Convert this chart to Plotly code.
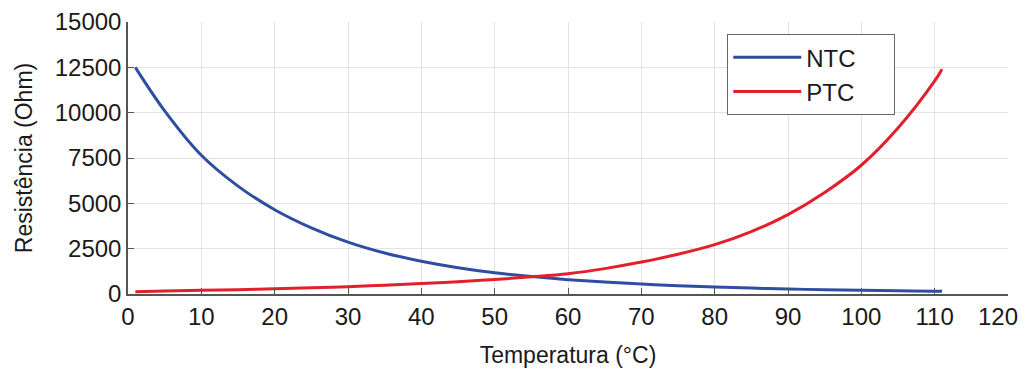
import plotly.graph_objects as go

temperatura = [1, 5, 10, 15, 20, 25, 30, 35, 40, 45, 50, 55, 60, 65, 70, 75, 80, 85, 90, 95, 100, 105, 110, 111]
ntc = [12500, 10100, 7650, 5950, 4650, 3650, 2860, 2260, 1810, 1450, 1170, 960, 790, 655, 545, 455, 385, 325, 275, 235, 200, 175, 150, 145]
ptc = [130, 160, 200, 240, 285, 340, 405, 485, 575, 680, 800, 945, 1120, 1400, 1760, 2190, 2720, 3440, 4380, 5600, 7100, 9150, 11750, 12400]

x_ticks = [0, 10, 20, 30, 40, 50, 60, 70, 80, 90, 100, 110, 120]
y_ticks = [0, 2500, 5000, 7500, 10000, 12500, 15000]

font_family = "Liberation Sans, Arial, sans-serif"
nb = "\u00a0"

x_ticktext = [str(v) for v in x_ticks]
x_ticktext[-1] = x_ticktext[-1] + nb * 3

fig = go.Figure()
fig.add_trace(go.Scatter(x=temperatura, y=ntc, mode="lines", name="NTC" + nb * 5,
                         line=dict(color="#2F4EA2", width=3, shape="spline", smoothing=1.0)))
fig.add_trace(go.Scatter(x=temperatura, y=ptc, mode="lines", name="PTC" + nb * 5,
                         line=dict(color="#E2202C", width=3, shape="spline", smoothing=1.0)))

fig.update_layout(
    width=1020, height=364,
    margin=dict(l=120, r=20, t=14, b=78),
    paper_bgcolor="white", plot_bgcolor="white",
    font=dict(family=font_family, size=23, color="#1a1a1a"),
    legend=dict(x=0.681, y=0.955, xanchor="left", yanchor="top",
                bordercolor="#666666", borderwidth=1, bgcolor="white",
                font=dict(size=24), tracegroupgap=0, itemwidth=68),
    showlegend=True,
)
fig.update_xaxes(
    range=[0, 120], tickvals=x_ticks, ticktext=x_ticktext,
    showgrid=True, gridcolor="#e3e3e3", gridwidth=1,
    showline=True, linecolor="#555555", linewidth=1.5, mirror=False,
    ticks="inside", ticklen=6, tickcolor="#555555",
    zeroline=False, automargin=False, ticklabeloverflow="allow",
    title=dict(text="Temperatura (°C)", font=dict(size=23), standoff=18),
    tickfont=dict(size=24),
)
fig.update_yaxes(
    range=[0, 15000], tickvals=y_ticks, ticktext=[str(v) for v in y_ticks],
    showgrid=True, gridcolor="#e3e3e3", gridwidth=1,
    showline=True, linecolor="#555555", linewidth=1.5, mirror=False,
    ticks="inside", ticklen=6, tickcolor="#555555",
    zeroline=False, automargin=False,
    title=dict(text="Resistência (Ohm)", font=dict(size=23), standoff=16),
    tickfont=dict(size=24),
)

fig.write_html("out.html")
